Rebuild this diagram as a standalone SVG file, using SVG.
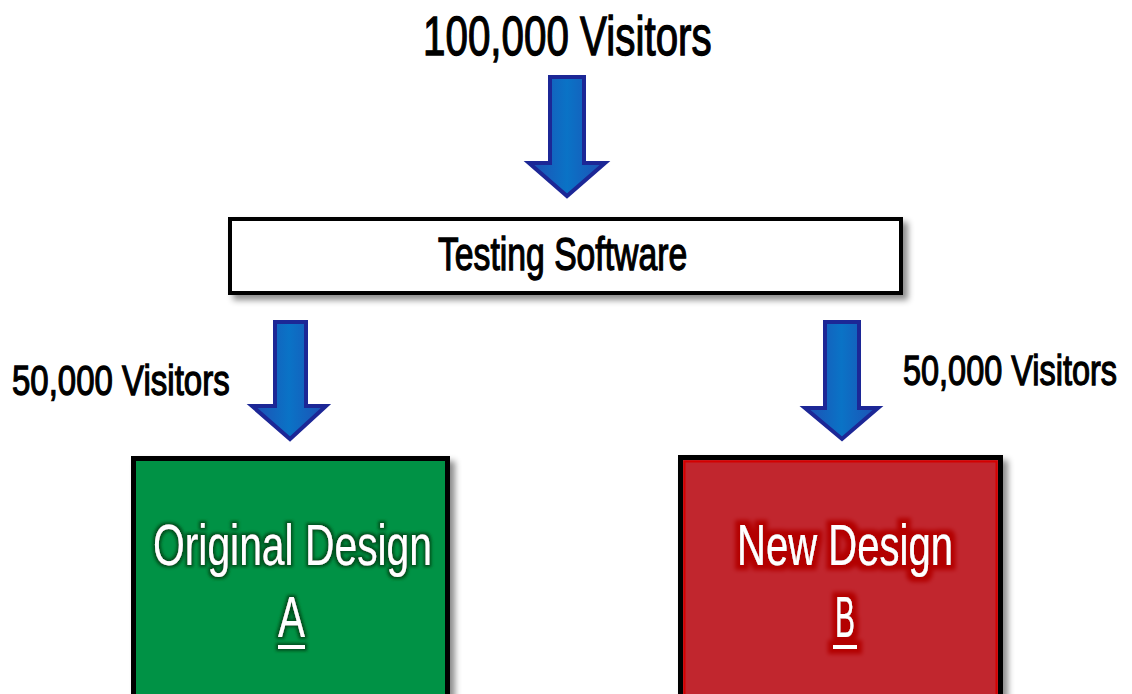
<svg xmlns="http://www.w3.org/2000/svg" width="1132" height="694" viewBox="0 0 1132 694">
<style>
.lbl{font-family:"Liberation Sans",Arial,sans-serif;font-weight:normal;fill:#000;stroke:#000;stroke-width:1.3}
.des{font-family:"Liberation Sans",Arial,sans-serif;fill:#fff;font-size:58px}
.arrow{fill:url(#ag);stroke:#1c2796;stroke-width:4;stroke-linejoin:miter}
</style>
<defs>
<linearGradient id="ag" x1="0" y1="0" x2="1" y2="0">
<stop offset="0" stop-color="#1f4fb4"/>
<stop offset="0.5" stop-color="#0a73c6"/>
<stop offset="1" stop-color="#1f4fb4"/>
</linearGradient>
<filter id="shadow" x="-10%" y="-10%" width="130%" height="140%">
<feDropShadow dx="5" dy="5" stdDeviation="3" flood-color="#000" flood-opacity="0.45"/>
</filter>
<filter id="glowG" x="-20%" y="-40%" width="140%" height="180%">
<feMorphology in="SourceAlpha" operator="dilate" radius="2" result="d"/>
<feGaussianBlur in="d" stdDeviation="1.5" result="b"/>
<feFlood flood-color="#00501c"/>
<feComposite in2="b" operator="in" result="g"/>
<feMerge><feMergeNode in="g"/><feMergeNode in="SourceGraphic"/></feMerge>
</filter>
<filter id="glowR" x="-20%" y="-40%" width="140%" height="180%">
<feMorphology in="SourceAlpha" operator="dilate" radius="5" result="d"/>
<feGaussianBlur in="d" stdDeviation="2" result="b"/>
<feFlood flood-color="#b30000"/>
<feComposite in2="b" operator="in" result="g"/>
<feMerge><feMergeNode in="g"/><feMergeNode in="SourceGraphic"/></feMerge>
</filter>
</defs>
<rect width="1132" height="694" fill="#fff"/>

<g id="visitors-total">
<text class="lbl" transform="translate(423,55) scale(0.72,1)" font-size="56" textLength="401" lengthAdjust="spacingAndGlyphs">100,000 Visitors</text>
</g>

<g id="testing-software">
<rect x="230" y="219" width="671" height="74" fill="#fff" stroke="#000" stroke-width="4" filter="url(#shadow)"/>
<text class="lbl" transform="translate(438,270) scale(0.72,1)" font-size="46" textLength="346" lengthAdjust="spacingAndGlyphs">Testing Software</text>
</g>

<g id="design-a">
<rect x="133.5" y="458.5" width="314" height="250" fill="#009245" stroke="#000" stroke-width="5" filter="url(#shadow)"/>
<g filter="url(#glowG)">
<text class="des" x="153" y="565" textLength="279" lengthAdjust="spacingAndGlyphs">Original Design</text>
<text class="des" x="278" y="637" textLength="27" lengthAdjust="spacingAndGlyphs">A</text>
<rect x="278" y="645" width="27" height="4" fill="#fff"/>
</g>
</g>

<g id="design-b">
<rect x="680.5" y="457.5" width="320" height="250" fill="#c1272d" stroke="#000" stroke-width="5" filter="url(#shadow)"/>
<rect x="684.5" y="461.5" width="312" height="242" fill="none" stroke="#d40000" stroke-width="2"/>
<g filter="url(#glowR)">
<text class="des" x="737" y="565" textLength="216" lengthAdjust="spacingAndGlyphs">New Design</text>
<text class="des" x="835" y="637" textLength="20" lengthAdjust="spacingAndGlyphs">B</text>
<rect x="833" y="645" width="24" height="4" fill="#fff"/>
</g>
</g>

<g id="label-left">
<text class="lbl" transform="translate(12,395) scale(0.78,1)" font-size="42" textLength="279" lengthAdjust="spacingAndGlyphs">50,000 Visitors</text>
</g>
<g id="label-right">
<text class="lbl" transform="translate(903,385) scale(0.77,1)" font-size="42" textLength="278" lengthAdjust="spacingAndGlyphs">50,000 Visitors</text>
</g>

<g id="connectors">
<polygon class="arrow" points="550,77 584,77 584,163 605,163 567,196 529,163 550,163"/>
<polygon class="arrow" points="275,322 306,322 306,406 326,406 290,439 252,406 275,406"/>
<polygon class="arrow" points="825,322 859,322 859,408 878,408 842,439 805,408 825,408"/>
</g>
</svg>
